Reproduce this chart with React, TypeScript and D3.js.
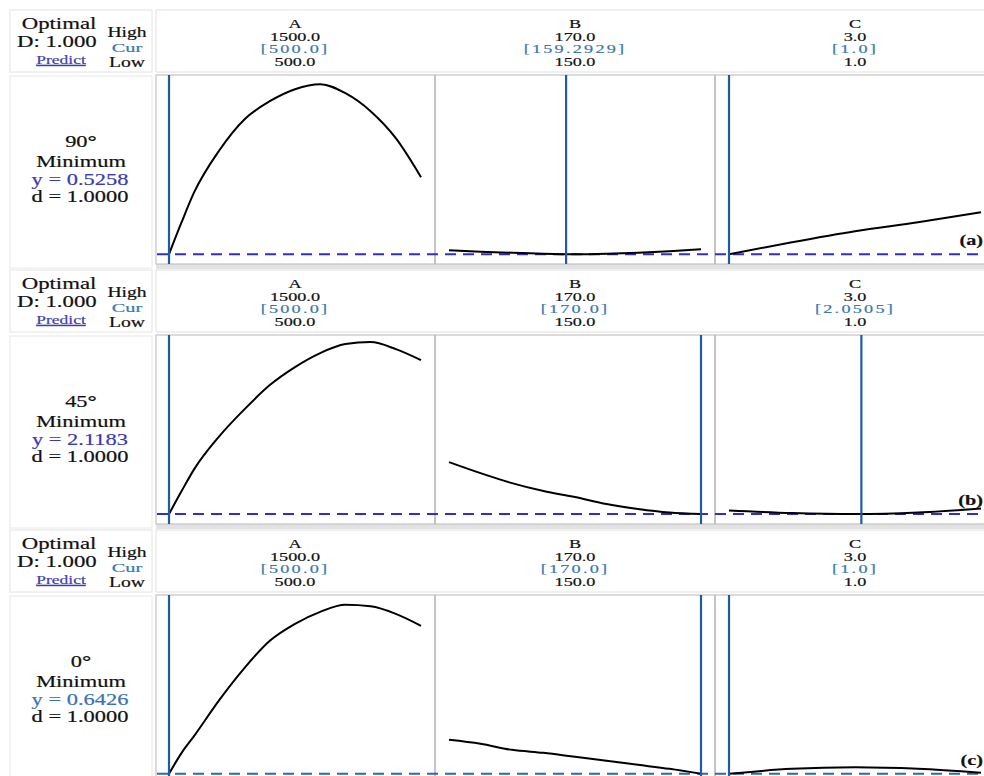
import * as d3 from 'd3';

// factor grids (x values of the profile curves)
const aLevels = [500, 550, 600, 700, 800, 900, 1000, 1100, 1200, 1300, 1400, 1500];
const bLevels = [150, 152.5, 155, 157.5, 160, 162.5, 165, 167.5, 170];
const cLevels = [1, 1.5, 2, 2.5, 3];

const factorNames = ['A', 'B', 'C'];
const highLabels = ['1500.0', '170.0', '3.0'];
const lowLabels = ['500.0', '150.0', '1.0'];
const factorDomains: [number, number][] = [[500, 1500], [150, 170], [1, 3]];

// per panel: angle, predicted y, current settings
const angles = ['90', '45', '0'];
const panelTags = ['(a)', '(b)', '(c)'];
const predicted = [0.5258, 2.1183, 0.6426];
const curA = [500, 500, 500];
const curB = [159.2929, 170, 170];
const curC = [1, 2.0505, 1];
const curLabels = [
  ['[500.0]', '[159.2929]', '[1.0]'],
  ['[500.0]', '[170.0]', '[2.0505]'],
  ['[500.0]', '[170.0]', '[1.0]'],
];
const yDomains: [number, number][] = [[0.33, 4.11], [1.92, 5.70], [0.44, 4.22]];

// response profiles
const respA = [
  [0.526, 1.166, 1.766, 2.606, 3.226, 3.586, 3.826, 3.926, 3.746, 3.386, 2.846, 2.066],
  [2.118, 2.578, 3.018, 3.678, 4.218, 4.698, 5.058, 5.338, 5.518, 5.558, 5.418, 5.198],
  [0.643, 1.063, 1.403, 2.123, 2.763, 3.303, 3.643, 3.883, 4.023, 3.993, 3.843, 3.603],
];
const respB = [
  [0.606, 0.576, 0.556, 0.536, 0.526, 0.536, 0.556, 0.586, 0.626],
  [3.158, 2.938, 2.738, 2.578, 2.458, 2.318, 2.218, 2.148, 2.118],
  [1.323, 1.243, 1.123, 1.063, 0.983, 0.903, 0.823, 0.743, 0.643],
];
const respC = [
  [0.526, 0.766, 0.986, 1.166, 1.366],
  [2.188, 2.138, 2.118, 2.148, 2.228],
  [0.643, 0.743, 0.773, 0.743, 0.663],
];

const predColors = ['#3a3ab4', '#3a3ab4', '#3a72b2'];
const dashColors = ['#2f2fcc', '#2f2fcc', '#2a68b8'];

const serif = '"Liberation Serif", "Times New Roman", serif';

const T = (p: any) => (
  <text
    transform={`translate(${p.x},${p.y}) scale(${p.sx || 1.4},1)`}
    fontFamily={serif}
    fontSize={p.size || 13}
    fill={p.fill || '#111'}
    stroke={p.fill || '#111'}
    strokeWidth={0.2}
    textAnchor={p.anchor || 'middle'}
    fontWeight={p.weight || 'normal'}
    letterSpacing={p.ls || 0}
    textDecoration={p.deco}
  >
    {p.children}
  </text>
);

const Panel = ({ i }: { i: number }) => {
  const off = i * 260;
  const plotTop = 75, plotBottom = 264;
  const colX = [155, 435, 715];
  const colW = 280;
  const xs = factorDomains.map((d, k) =>
    d3.scaleLinear().domain(d).range([colX[k] + 14, colX[k] + colW - 14])
  );
  const y = d3.scaleLinear().domain(yDomains[i]).range([plotBottom, plotTop]);
  const line = d3.line<[number, number]>()
    .x(d => d[0])
    .y(d => d[1])
    .curve(d3.curveMonotoneX);

  const series = [
    aLevels.map((v, j) => [xs[0](v), y(respA[i][j])] as [number, number]),
    bLevels.map((v, j) => [xs[1](v), y(respB[i][j])] as [number, number]),
    cLevels.map((v, j) => [xs[2](v), y(respC[i][j])] as [number, number]),
  ];
  const curs = [curA[i], curB[i], curC[i]];

  return (
    <g transform={`translate(0,${off})`}>
      {/* header */}
      <rect x={10} y={10} width={142} height={62} fill="#fff" stroke="#e4e4e4" />
      <rect x={156} y={10} width={830} height={62} fill="#fff" stroke="#e0e0e0" />
      <T x={59} y={29} size={16.5} sx={1.38}>Optimal</T>
      <T x={17} y={47} size={16.5} sx={1.38} anchor="start">D: 1.000</T>
      <T x={61} y={64} size={12.5} fill="#4040b0" deco="underline">Predict</T>
      <T x={127} y={37} size={14}>High</T>
      <T x={127} y={52} size={13.5} fill="#3a78b0" sx={1.5}>Cur</T>
      <T x={127} y={67} size={14}>Low</T>
      {factorNames.map((f, k) => {
        const cx = colX[k] + colW / 2;
        return (
          <g key={f}>
            <T x={cx} y={28}>{f}</T>
            <T x={cx} y={40.5}>{highLabels[k]}</T>
            <T x={cx} y={53} fill="#3a78b0" ls={1.6}>{curLabels[i][k]}</T>
            <T x={cx} y={65.5}>{lowLabels[k]}</T>
          </g>
        );
      })}

      {/* left label box */}
      <rect x={10} y={76} width={142} height={192} fill="#fff" stroke="#e8e8e8" />
      <T x={81} y={147} size={16.5} sx={1.36}>
        {angles[i]}
        <tspan fontWeight="bold" fontSize={17}>°</tspan>
      </T>
      <T x={81} y={167} size={16.5} sx={1.36}>Minimum</T>
      <T x={80} y={185} size={16.5} sx={1.36} fill={predColors[i]}>{`y = ${predicted[i].toFixed(4)}`}</T>
      <T x={80} y={202} size={16.5} sx={1.36}>d = 1.0000</T>

      {/* plot frame */}
      <rect x={156} y={plotBottom - 1} width={830} height={6} fill="#e2e2e2" />
      <rect x={156} y={plotTop} width={830} height={plotBottom - plotTop} fill="#fff" stroke="#c4c4c4" strokeWidth={1.2} />
      {[435, 715].map(sx => (
        <line key={sx} x1={sx} x2={sx} y1={plotTop} y2={plotBottom} stroke="#b0b0b0" strokeWidth={1.5} />
      ))}

      {/* predicted response */}
      <line
        x1={157}
        x2={984}
        y1={y(predicted[i])}
        y2={y(predicted[i])}
        stroke={dashColors[i]}
        strokeWidth={2}
        strokeDasharray="11 7"
      />

      {series.map((s, k) => (
        <path key={k} d={line(s) || ''} fill="none" stroke="#000" strokeWidth={2} />
      ))}

      {/* current settings */}
      {curs.map((c, k) => (
        <line key={k} x1={xs[k](c)} x2={xs[k](c)} y1={plotTop} y2={plotBottom} stroke="#1f5aa8" strokeWidth={2.2} />
      ))}

      <T x={983} y={245} size={15} weight="bold" anchor="end" sx={1.35}>{panelTags[i]}</T>
    </g>
  );
};

export default function App() {
  return (
    <svg
      width={984}
      height={776}
      style={{ position: 'absolute', left: 0, top: 0, background: '#fff' }}
    >
      <rect width={984} height={776} fill="#fff" />
      {[0, 1, 2].map(i => <Panel key={i} i={i} />)}
    </svg>
  );
}
